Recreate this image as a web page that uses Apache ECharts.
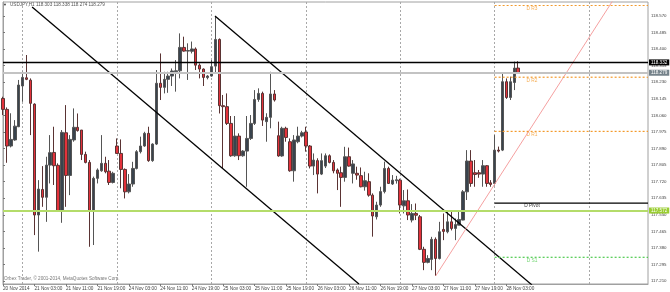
<!DOCTYPE html>
<html>
<head>
<meta charset="utf-8">
<script src="https://cdn.jsdelivr.net/npm/echarts@6/dist/echarts.min.js"></script>
<style>html,body{margin:0;padding:0;background:#fff}#chart{width:670px;height:292px}</style>
</head>
<body>
<div id="chart"></div>
<script>
// trading sessions shown on the time axis: [day, first hour, last hour]
var sessions = [['20 Nov', 19, 23], ['21 Nov', 0, 23], ['24 Nov', 0, 23], ['25 Nov', 0, 23],
	['26 Nov', 0, 23], ['27 Nov', 0, 23], ['28 Nov', 0, 23], ['1 Dec', 0, 15]];
var categories = [];
sessions.forEach(function(s){
	for (var h = s[1]; h <= s[2]; h++) categories.push(s[0] + ' ' + (h < 10 ? '0' : '') + h + ':00');
});

// hourly candles [open, close, low, high]
var ohlc = [
	[118.147,118.091,118.062,118.156],[118.091,117.903,117.817,118.101],[117.903,117.937,117.896,118.071],[117.934,118.005,117.930,118.036],
	[118.002,118.216,118.000,118.242],[118.211,118.255,118.130,118.284],[118.253,118.245,118.241,118.370],[118.241,118.122,117.959,118.250],
	[118.118,117.549,117.446,118.122],[117.549,117.682,117.361,117.728],[117.680,117.640,117.591,117.800],[117.640,117.805,117.514,117.848],
	[117.805,117.869,117.711,117.959],[117.870,117.802,117.703,118.002],[117.804,117.571,117.566,117.814],[117.571,117.973,117.509,117.985],
	[117.971,117.752,117.591,118.113],[117.752,117.937,117.651,117.959],[117.934,117.999,117.925,118.096],[117.999,117.982,117.977,118.070],
	[117.985,117.860,117.831,117.985],[117.860,117.819,117.814,117.874],[117.819,117.571,117.386,117.831],[117.571,117.737,117.395,117.746],
	[117.737,117.780,117.711,117.788],[117.776,117.814,117.771,117.959],[117.814,117.771,117.763,117.848],[117.774,117.716,117.703,117.831],
	[117.716,117.763,117.711,117.771],[117.903,117.865,117.865,117.942],[117.865,117.783,117.686,117.937],[117.783,117.668,117.634,117.788],
	[117.668,117.708,117.660,117.759],[117.708,117.788,117.694,117.822],[117.788,117.874,117.783,117.882],[117.874,117.903,117.865,117.951],
	[117.903,117.968,117.899,117.976],[117.968,117.828,117.822,118.002],[117.828,117.913,117.822,117.917],[117.913,118.225,117.908,118.293],
	[118.225,118.204,118.139,118.378],[118.204,118.245,118.173,118.284],[118.245,118.262,118.176,118.284],[118.262,118.288,118.211,118.301],
	[118.284,118.289,118.182,118.344],[118.289,118.409,118.250,118.481],[118.409,118.390,118.387,118.464],[118.390,118.393,118.242,118.430],
	[118.389,118.401,118.378,118.439],[118.401,118.318,118.293,118.409],[118.318,118.298,118.250,118.327],[118.298,118.255,118.211,118.301],
	[118.254,118.262,118.245,118.267],[118.262,118.310,118.259,118.344],[118.313,118.450,118.276,118.570],[118.450,118.110,118.070,118.455],
	[118.110,118.105,117.788,118.165],[118.105,118.019,118.011,118.173],[118.019,117.853,117.848,118.057],[117.853,117.954,117.848,118.057],
	[117.954,117.853,117.831,117.968],[117.853,117.877,117.848,117.882],[117.877,117.942,117.694,118.057],[117.942,118.019,117.934,118.062],
	[118.019,118.142,118.011,118.190],[118.142,118.173,118.130,118.199],[118.173,118.036,118.006,118.182],[118.028,118.050,117.925,118.071],
	[118.050,118.170,117.994,118.284],[118.170,118.139,118.131,118.190],[117.956,117.852,117.848,118.028],[117.852,117.994,117.848,118.002],
	[117.994,117.947,117.925,118.002],[117.925,117.776,117.771,117.942],[117.776,117.934,117.720,117.959],[117.925,117.954,117.917,118.002],
	[117.954,117.971,117.947,117.981],[117.975,117.903,117.874,118.002],[117.903,117.800,117.788,117.908],[117.800,117.831,117.754,117.865],
	[117.828,117.759,117.660,117.840],[117.759,117.828,117.754,117.865],[117.800,117.853,117.790,117.865],[117.853,117.819,117.814,117.860],
	[117.819,117.776,117.763,117.831],[117.780,117.763,117.677,117.788],[117.766,117.742,117.591,117.797],[117.742,117.848,117.720,117.899],
	[117.848,117.800,117.797,117.895],[117.763,117.811,117.711,117.831],[117.763,117.754,117.730,117.797],[117.751,117.694,117.691,117.793],
	[117.694,117.725,117.674,117.771],[117.720,117.651,117.643,117.763],[117.651,117.544,117.438,117.660],[117.540,117.600,117.526,117.617],
	[117.600,117.669,117.591,117.694],[117.669,117.788,117.660,117.823],[117.788,117.711,117.708,117.797],[117.708,117.728,117.703,117.754],
	[117.725,117.730,117.710,117.750],[117.728,117.600,117.557,117.735],[117.596,117.622,117.557,117.677],[117.622,117.549,117.523,117.680],
	[117.523,117.557,117.511,117.605],[117.557,117.548,117.523,117.608],[117.540,117.373,117.369,117.549],[117.373,117.306,117.266,117.386],
	[117.306,117.326,117.301,117.343],[117.321,117.424,117.266,117.437],[117.424,117.326,117.236,117.434],[117.326,117.463,117.321,117.514],
	[117.475,117.465,117.420,117.557],[117.463,117.514,117.455,117.565],[117.514,117.480,117.470,117.565],[117.480,117.500,117.420,117.531],
	[117.497,117.526,117.497,117.574],[117.523,117.668,117.522,117.677],[117.668,117.826,117.626,117.882],[117.826,117.711,117.694,117.882],
	[117.766,117.757,117.694,117.831],[117.766,117.759,117.740,117.780],[117.759,117.802,117.694,117.831],[117.802,117.711,117.694,117.805],
	[117.714,117.706,117.694,117.728],[117.711,117.882,117.700,117.959],[117.882,117.877,117.870,117.900],[117.882,118.233,117.877,118.276],
	[118.233,118.152,118.145,118.250],[118.152,118.233,118.139,118.259],[118.229,118.303,118.190,118.336],[118.303,118.279,118.274,118.338]
];

var priceTicks = [117.210,117.295,117.380,117.465,117.550,117.635,117.720,117.805,117.890,117.975,
	118.060,118.145,118.230,118.315,118.400,118.485,118.570];

// horizontal levels: resistance line, bid, support line
var levelValues = [118.332, 118.279, 117.572];

// daily pivot levels, drawn from the 28 Nov open
var pivotNames = ['D R3', 'D R2', 'D R1', 'D Pivot', 'D S1'];
var pivotValues = [118.624, 118.256, 117.978, 117.610, 117.332];
var pivotStart = 125;

// trend lines as [bar index, price] pairs
var upperTrend = [[53.9, 118.570], [134.5, 117.190]];
var lowerTrend = [[7.4, 118.616], [90.5, 117.195]];
var riseTrend = [[110, 117.236], [164, 118.930]];

var lastBar = ohlc.length - 1;
var font = 'Liberation Sans';
var myChart = echarts.init(document.getElementById('chart'));

function labelShown(index){ return index % 8 === 0 && index <= lastBar; }
function midnight(index, value){ return / 00:00$/.test(value); }

var levelStyles = [
	{line: {color: '#000', width: 1.4}, bg: '#000'},
	{line: {color: '#c3c3c3', width: 2}, bg: '#75828a'},
	{line: {color: '#b4dc6a', width: 2}, bg: '#9acd32'}
];
var pivotColors = ['#f39a2c', '#f39a2c', '#f39a2c', '#000', '#4fcb4f'];

var series = [{
	name: 'USDJPY,H1',
	type: 'candlestick',
	data: ohlc,
	barWidth: 3,
	itemStyle: {color: '#39434d', color0: '#e3323b', borderColor: '#555', borderColor0: '#5a3333', borderWidth: 1},
	markLine: {
		silent: true,
		symbol: ['none', 'none'],
		precision: 3,
		data: levelValues.map(function(v, k){
			return {
				yAxis: v,
				lineStyle: {type: 'solid', color: levelStyles[k].line.color, width: levelStyles[k].line.width},
				label: {
					show: true, position: 'end', distance: 1,
					formatter: function(p){ return p.value.toFixed(3); },
					color: '#fff', backgroundColor: levelStyles[k].bg,
					fontFamily: font, fontSize: 4.6, padding: [1, 2, 0, 2]
				}
			};
		})
	}
}];

[upperTrend, lowerTrend].forEach(function(t){
	series.push({type: 'line', xAxisIndex: 1, data: t, symbol: 'none', silent: true,
		lineStyle: {color: '#000', width: 1.3}});
});
series.push({type: 'line', xAxisIndex: 1, data: riseTrend, symbol: 'none', silent: true,
	lineStyle: {color: '#f5a0a0', width: 1}});

pivotValues.forEach(function(v, k){
	series.push({type: 'line', xAxisIndex: 1, data: [[pivotStart, v], [categories.length - 1, v]],
		symbol: 'none', silent: true, itemStyle: {color: pivotColors[k]},
		lineStyle: k === 3 ? {color: '#000', width: 1.3} : {color: pivotColors[k], width: 1.2, type: [2, 2], opacity: 1}});
});
series.push({
	type: 'scatter', xAxisIndex: 1, symbolSize: 0, silent: true,
	data: pivotValues.map(function(v, k){ return {name: pivotNames[k], value: [134.5, v],
		label: {color: pivotColors[k]}}; }),
	label: {show: true, position: 'bottom', distance: 0.5, formatter: '{b}', fontFamily: font, fontSize: 4.8}
});

var option = {
	animation: false,
	backgroundColor: '#fff',
	grid: {left: 2, right: 22, top: 2, bottom: 8, show: true, borderColor: '#a0a0a0', borderWidth: 1},
	xAxis: [{
		type: 'category', data: categories, boundaryGap: false,
		axisLine: {lineStyle: {color: '#a0a0a0'}},
		axisTick: {interval: labelShown, length: 2, lineStyle: {color: '#777'}},
		axisLabel: {
			interval: labelShown, align: 'left', margin: 2, color: '#444',
			fontFamily: font, fontSize: 4.7,
			formatter: function(v, i){ return i === 0 ? '20 Nov 2014' : v; }
		},
		splitLine: {show: true, interval: midnight, lineStyle: {color: '#a8a8a8', type: [2, 2], width: 1}}
	}, {
		type: 'value', min: 0, max: categories.length - 1, show: false
	}],
	yAxis: {
		type: 'value', position: 'right', min: 117.195, max: 118.642, scale: true,
		axisLine: {show: true, lineStyle: {color: '#a0a0a0'}},
		axisTick: {show: true, customValues: priceTicks, length: 2, lineStyle: {color: '#777'}},
		axisLabel: {customValues: priceTicks, margin: 3, color: '#444', fontFamily: font, fontSize: 4.4,
			formatter: function(v){ return v.toFixed(3); }},
		splitLine: {show: false}
	},
	graphic: [
		{type: 'text', left: 3, top: 2.5, style: {text: '\u25BC', fontSize: 4, fill: '#333', fontFamily: font}},
		{type: 'text', left: 10, top: 2.5, style: {text: 'USDJPY,H1 118.303 118.338 118.274 118.279', fontSize: 4.6, fill: '#555', fontFamily: font}},
		{type: 'text', left: 4, top: 276, style: {text: 'Orbex Trader, \u00A9 2001-2014, MetaQuotes Software Corp.', fontSize: 4.6, fill: '#777', fontFamily: font}}
	],
	series: series
};
myChart.setOption(option, true);
</script>
</body>
</html>
